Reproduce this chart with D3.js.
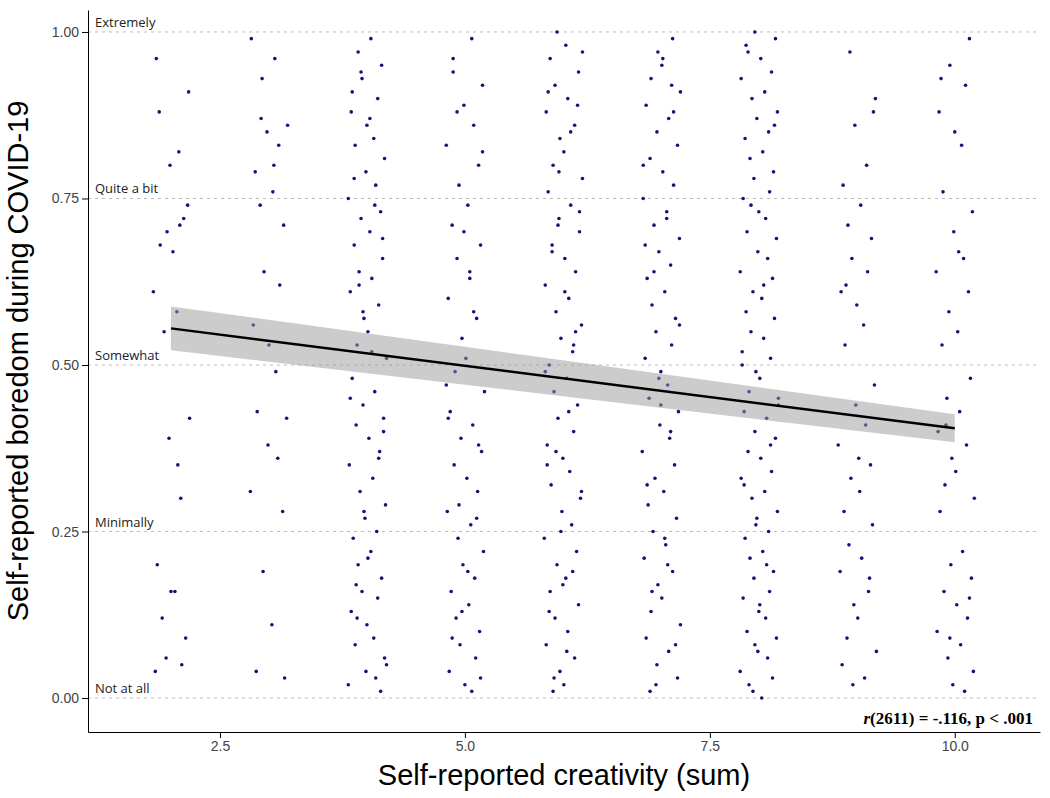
<!DOCTYPE html>
<html><head><meta charset="utf-8">
<script src="https://cdn.jsdelivr.net/npm/d3@7"></script>
<style>body{margin:0;background:#fff}</style></head>
<body><svg id="c" width="1050" height="798"></svg>
<script>
const colX = [2, 3, 4, 5, 6, 7, 8, 9, 10]
const colY = [
 "96 82 70 74 68 67 72 61 58 55 42 39 30 20 16 12 9 6 5 4 16 35 88 91 80 71",
 "99 96 93 86 85 83 79 76 74 71 64 62 56 53 49 43 42 38 36 31 28 19 11 4 3 87 80",
 "99 97 95 93 90 88 86 84 83 81 79 77 75 73 72 70 68 66 64 63 61 59 57 55 53 51 48 46 44 42 41 39 37 35 33 31 29 27 25 24 22 20 18 16 15 13 11 9 8 6 4 3 2 1 94 87 78 69 62 52 45 36 28 21 12 5 91 74 58 40 17",
 "99 96 92 89 86 83 80 77 74 71 68 66 63 60 57 54 51 49 46 43 41 39 37 35 33 31 28 26 24 22 20 18 16 14 12 10 8 6 4 2 1 94 82 70 58 47 38 29 19 9 3 88 64 42 27 13",
 "100 98 96 94 92 90 88 86 84 82 80 78 76 74 72 70 68 66 64 62 60 58 56 54 52 50 48 46 44 42 40 38 36 34 32 30 28 26 24 22 20 18 16 14 12 10 8 6 4 2 1 97 91 85 79 73 67 61 55 49 43 37 31 25 19 13 7 3 89 71 53 35 17",
 "99 97 95 93 91 89 87 85 83 81 79 77 75 73 71 69 67 65 63 61 59 57 55 53 51 49 47 45 43 41 39 37 35 33 31 29 27 25 23 21 19 17 15 13 11 9 7 5 3 1 96 88 80 72 64 56 48 40 32 24 16 8 2 92 68 44 20",
 "100 99 97 96 94 93 91 90 88 87 85 84 82 81 79 78 76 75 73 72 70 69 67 66 64 63 61 60 58 57 55 54 52 51 49 48 46 45 43 42 40 39 37 36 34 33 31 30 28 27 25 24 22 21 19 18 16 15 13 12 10 9 7 6 4 3 1 0 98 86 74 62 50 38 26 14 2 44 32 20 8",
 "97 90 86 80 77 74 71 69 66 64 61 59 56 53 47 44 41 38 35 33 31 28 26 23 21 19 16 14 12 9 7 5 3 2 88 62 36 18",
 "99 95 92 88 85 83 76 73 70 66 64 61 58 55 53 48 45 43 40 38 36 34 32 30 28 22 20 18 16 14 12 10 8 6 4 2 1 93 67 41 15 9"
]
// horizontal jitter offsets (score units)
const jitter = [-0.15,0.08,-0.04,0.17,-0.11,0.02,0.13,-0.18,0.06,-0.07,0.19,-0.02,0.1,-0.14,0.04,-0.09,0.15,-0.05,0.11,-0.16,0.0,0.07,-0.12,0.18,-0.01,0.09,-0.19,0.14,-0.06,0.03,-0.13,0.16,-0.08,0.05,-0.17,0.12,-0.03,0.01,-0.1,0.2]
const xTicks = [2.5, 5.0, 7.5, 10.0]
const yTicks = [0, 0.25, 0.5, 0.75, 1.0]
const yLabels = ["Not at all", "Minimally", "Somewhat", "Quite a bit", "Extremely"]
const fitX = [2, 10]
const fitY = [0.555, 0.405]
const fitLo = [0.522, 0.384]
const fitHi = [0.588, 0.426]

var points = []
colX.forEach((cx, i) => {
  colY[i].split(" ").forEach((v, j) => {
    points.push({x: cx + jitter[(j + i * 7) % jitter.length], y: +v / 100})
  })
})

var svg = d3.select("#c")
var x = d3.scaleLinear().domain([1.153, 10.87]).range([88, 1040])
var y = d3.scaleLinear().domain([-0.051, 1.033]).range([732, 10])

svg.selectAll(".grid").data(yTicks).join("line")
  .attr("x1", 88).attr("x2", 1040).attr("y1", d => y(d)).attr("y2", d => y(d))
  .attr("stroke", "#bbb").attr("stroke-dasharray", "3,4")

svg.selectAll(".lab").data(yTicks).join("text")
  .attr("x", 95).attr("y", d => y(d) - 5)
  .attr("font-family", "Open Sans").attr("font-size", 13).attr("fill", "#222")
  .text((d, i) => yLabels[i])

svg.selectAll("circle").data(points).join("circle")
  .attr("cx", d => x(d.x)).attr("cy", d => y(d.y)).attr("r", 1.8).attr("fill", "#141478")

var band = fitX.map((v, i) => ({x: v, lo: fitLo[i], hi: fitHi[i]}))
svg.append("path").datum(band).attr("fill", "#999").attr("opacity", 0.5)
  .attr("d", d3.area().x(d => x(d.x)).y0(d => y(d.lo)).y1(d => y(d.hi)))
svg.append("path").datum(fitX.map((v, i) => [v, fitY[i]])).attr("fill", "none")
  .attr("stroke", "#000").attr("stroke-width", 2.5)
  .attr("d", d3.line().x(d => x(d[0])).y(d => y(d[1])))

var xa = svg.append("g").attr("transform", "translate(0,732)")
  .call(d3.axisBottom(x).tickValues(xTicks).tickFormat(d3.format(".1f")).tickSizeOuter(0))
var ya = svg.append("g").attr("transform", "translate(88,0)")
  .call(d3.axisLeft(y).tickValues(yTicks).tickFormat(d3.format(".2f")).tickSizeOuter(0))
;[xa, ya].forEach(a => {
  a.selectAll("text").attr("font-family", "Liberation Sans").attr("font-size", 14).attr("fill", "#444")
  a.select(".domain").attr("stroke", "#000")
})

svg.append("text").attr("x", 564).attr("y", 785).attr("text-anchor", "middle")
  .attr("font-family", "Liberation Sans").attr("font-size", 29).text("Self-reported creativity (sum)")
svg.append("text").attr("transform", "translate(28,361) rotate(-90)").attr("text-anchor", "middle")
  .attr("font-family", "Liberation Sans").attr("font-size", 29).text("Self-reported boredom during COVID-19")

var ann = svg.append("text").attr("x", 1033).attr("y", 724).attr("text-anchor", "end")
  .attr("font-family", "Liberation Serif").attr("font-size", 17).attr("font-weight", "bold")
ann.append("tspan").attr("font-style", "italic").text("r")
ann.append("tspan").text("(2611) = -.116, p < .001")
</script></body></html>
